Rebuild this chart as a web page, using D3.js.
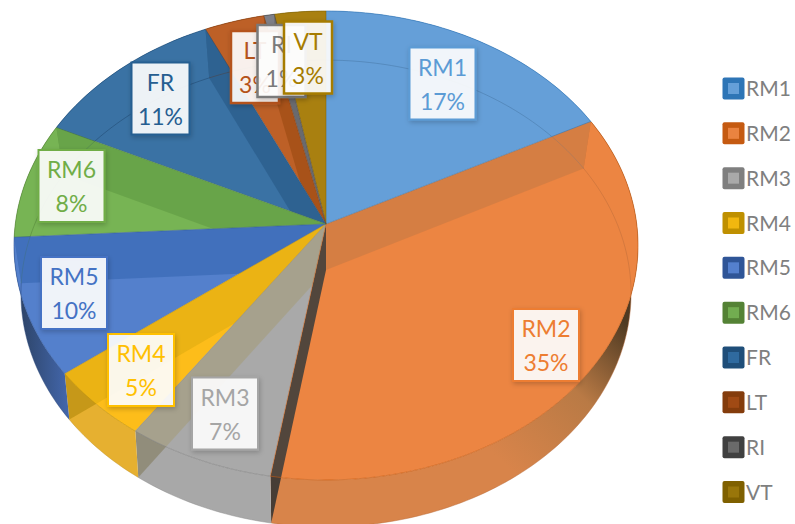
<!DOCTYPE html>
<html>
<head>
<meta charset="utf-8">
<script src="https://cdn.jsdelivr.net/npm/d3@7"></script>
<style>
  html, body { margin: 0; padding: 0; background: #fff; }
  text { font-family: Lato, "Open Sans", sans-serif; }
</style>
</head>
<body>
<div id="chart"></div>
<script>
const categories = ["RM1", "RM2", "RM3", "RM4", "RM5", "RM6", "FR", "LT", "RI", "VT"];
const shares = [17.4, 35.2, 7, 5, 9.5, 8, 11, 3.4, 0.6, 2.9];

// colours per slice
const topColors = ["#659fd8", "#ec8542", "#a9a9a9", "#fdbd1a", "#5480cc", "#77b454", "#3a72a4", "#bd6027", "#7d7f88", "#a98010"];
const sideColors = ["#4f86bd", "#dc7f45", "#a8a8a8", "#e6b030", "#2f5290", "#5c9440", "#1f4e79", "#8a3f10", "#505050", "#7f6000"];
// wall at the end of each slice, and the slice it shows through
const wallColors = ["#c67a45", "#4a423c", "#a59c7c", "#e0ac10", "#3566b0", "#5f9a42", "#1d4a75", "#9a4a10", "#555555", "#8a6a08"];
const wallOpacity = [0.6, 0.95, 0.6, 0.6, 0.6, 0.6, 0.4, 0.6, 0.5, 0];
const wallOwner = [1, 1, 2, 3, 4, 5, 6, 7, 8, 9];
const labelColors = ["#5b9bd5", "#ed7d31", "#a5a5a5", "#ffc000", "#4472c4", "#70ad47", "#255e91", "#b5531a", "#7a7a7a", "#a67c00"];
const legendBorder = ["#2e75b6", "#c55a11", "#7f7f7f", "#bf9000", "#2f5597", "#548235", "#1f4e79", "#843c0c", "#404040", "#7f6000"];
const legendInner = ["#659fd8", "#ea8340", "#a9a9a9", "#f1b70f", "#5480ce", "#72ad50", "#2f6a9f", "#a04a14", "#6a6a6a", "#99760a"];

// label box centres, placed by hand like the original
const labelCenters = [[442.5, 83.5], [546, 345], [225, 413.5], [141, 370], [74, 293], [71.5, 186], [160.5, 98.5], [255, 67], [281.5, 61], [308, 57.5]];

const width = 795;
const height = 524;

const svg = d3.select("#chart").append("svg")
    .attr("width", width)
    .attr("height", height)
    .style("display", "block");

const defs = svg.append("defs");

const shadow = defs.append("filter").attr("id", "shadow")
    .attr("x", "-20%").attr("y", "-20%").attr("width", "140%").attr("height", "140%");
shadow.append("feDropShadow")
    .attr("dx", 1).attr("dy", 2).attr("stdDeviation", 2.5)
    .attr("flood-color", "#000").attr("flood-opacity", 0.22);

// RM2 side goes dark towards the right edge, RM5 towards the left
const sideGrad2 = defs.append("linearGradient").attr("id", "side-RM2")
    .attr("gradientUnits", "userSpaceOnUse")
    .attr("x1", 500).attr("y1", 460).attr("x2", 628).attr("y2", 325);
sideGrad2.append("stop").attr("offset", 0).attr("stop-color", "#d8844a");
sideGrad2.append("stop").attr("offset", 0.55).attr("stop-color", "#b97a45");
sideGrad2.append("stop").attr("offset", 1).attr("stop-color", "#4f3a22");

const sideGrad5 = defs.append("linearGradient").attr("id", "side-RM5")
    .attr("gradientUnits", "userSpaceOnUse")
    .attr("x1", 20).attr("y1", 330).attr("x2", 70).attr("y2", 330);
sideGrad5.append("stop").attr("offset", 0).attr("stop-color", "#2d4468");
sideGrad5.append("stop").attr("offset", 1).attr("stop-color", "#4468ae");

// perspective circle: apex is not the ellipse centre
const topFace = { cx: 326, cy: 224, a: 310.7, b: 232.5, k: 0.0916 };
const bottomFace = { cx: 326, cy: 270, a: 303.5, b: 231, k: 0.1006 };

const project = (face, theta) => {
    const u = Math.sin(theta);
    const v = Math.cos(theta);
    const w = 1 + face.k * v;
    return [face.cx + face.a * u / w, face.cy - face.b * v / w];
};

const arcs = d3.pie().sort(null).value(d => d)(shares);
const line = d3.line();

const rim = (face, a0, a1) => {
    const n = Math.max(2, Math.ceil((a1 - a0) / 0.02));
    return d3.range(n + 1).map(i => project(face, a0 + (a1 - a0) * i / n));
};
const wedge = (face, d) => line([[face.cx, face.cy], ...rim(face, d.startAngle, d.endAngle)]) + "Z";
const sidePath = d => line([...rim(topFace, d.startAngle, d.endAngle), ...rim(bottomFace, d.startAngle, d.endAngle).reverse()]) + "Z";
const wallPath = d => line([
    [topFace.cx, topFace.cy],
    project(topFace, d.endAngle),
    project(bottomFace, d.endAngle),
    [bottomFace.cx, bottomFace.cy]
]) + "Z";

// one clip per slice, walls only show inside the slice they sit behind
arcs.forEach((d, i) => {
    const clip = defs.append("clipPath").attr("id", `slice-${i}`);
    clip.append("path").attr("d", wedge(topFace, d));
    clip.append("path").attr("d", sidePath(d));
    defs.append("clipPath").attr("id", `side-${i}`)
        .append("path").attr("d", sidePath(d));
});

// outer side walls
svg.append("g").selectAll("path")
    .data(arcs)
    .join("path")
    .attr("d", sidePath)
    .attr("fill", (d, i) => i === 1 ? "url(#side-RM2)" : i === 4 ? "url(#side-RM5)" : sideColors[i]);

// top face
svg.append("g").selectAll("path")
    .data(arcs)
    .join("path")
    .attr("d", d => wedge(topFace, d))
    .attr("fill", (d, i) => topColors[i]);

// bottom rim seen through the glass
svg.append("g").selectAll("path")
    .data(arcs)
    .join("path")
    .attr("d", d => line(rim(bottomFace, d.startAngle, d.endAngle)))
    .attr("fill", "none")
    .attr("stroke", (d, i) => d3.color(sideColors[i]).darker(0.5))
    .attr("stroke-opacity", 0.45)
    .attr("stroke-width", 1);

// radial walls at each slice end
const walls = svg.append("g").selectAll("g")
    .data(arcs)
    .join("g");

walls.append("g")
    .attr("clip-path", (d, i) => `url(#slice-${wallOwner[i]})`)
    .append("path")
    .attr("d", wallPath)
    .attr("fill", (d, i) => wallColors[i])
    .attr("fill-opacity", (d, i) => wallOpacity[i]);

walls.append("g")
    .attr("clip-path", (d, i) => `url(#side-${wallOwner[i]})`)
    .append("path")
    .attr("d", wallPath)
    .attr("fill", "#000")
    .attr("fill-opacity", (d, i) => wallOpacity[i] ? 0.12 : 0);

// slice boundaries and top rim edge
svg.append("g").selectAll("path")
    .data(arcs)
    .join("path")
    .attr("d", d => line(rim(topFace, d.startAngle, d.endAngle)))
    .attr("fill", "none")
    .attr("stroke", (d, i) => legendBorder[i])
    .attr("stroke-opacity", 0.6)
    .attr("stroke-width", 1);

svg.append("g").selectAll("path")
    .data(arcs)
    .join("path")
    .attr("d", d => line([[topFace.cx, topFace.cy], project(topFace, d.endAngle)]))
    .attr("stroke", (d, i) => legendBorder[i])
    .attr("stroke-opacity", 0.5)
    .attr("stroke-width", 1);

// data labels
const boxW = c => c === "FR" ? 58 : c.length === 2 ? 48 : 66;
const boxH = 72;
const pct = d3.format(".0%");

const labels = svg.append("g").selectAll("g")
    .data(categories)
    .join("g")
    .attr("transform", (d, i) => `translate(${labelCenters[i][0]},${labelCenters[i][1]})`);

labels.append("rect")
    .attr("x", d => -boxW(d) / 2)
    .attr("y", -boxH / 2)
    .attr("width", d => boxW(d))
    .attr("height", boxH)
    .attr("fill", "#fff")
    .attr("fill-opacity", 0.9)
    .attr("stroke", (d, i) => labelColors[i])
    .attr("stroke-width", (d, i) => i > 6 ? 2.5 : 2)
    .attr("filter", "url(#shadow)");

labels.append("text")
    .attr("text-anchor", "middle")
    .attr("y", -8)
    .attr("font-size", 23)
    .attr("fill", (d, i) => labelColors[i])
    .text(d => d);

labels.append("text")
    .attr("text-anchor", "middle")
    .attr("y", 26)
    .attr("font-size", 23)
    .attr("fill", (d, i) => labelColors[i])
    .text((d, i) => pct(shares[i] / 100));

// legend
const legendY = d3.scalePoint().domain(categories).range([88.5, 492]);

const legend = svg.append("g").selectAll("g")
    .data(categories)
    .join("g")
    .attr("transform", d => `translate(722,${legendY(d)})`);

legend.append("rect")
    .attr("x", 0.5).attr("y", -11)
    .attr("width", 22).attr("height", 22).attr("rx", 2)
    .attr("fill", (d, i) => legendBorder[i]);

legend.append("rect")
    .attr("x", 6).attr("y", -5.5)
    .attr("width", 11).attr("height", 11)
    .attr("fill", (d, i) => legendInner[i]);

legend.append("text")
    .attr("x", 24)
    .attr("y", 7.5)
    .attr("font-size", 21)
    .attr("fill", "#7f7f7f")
    .text(d => d);
</script>
</body>
</html>
